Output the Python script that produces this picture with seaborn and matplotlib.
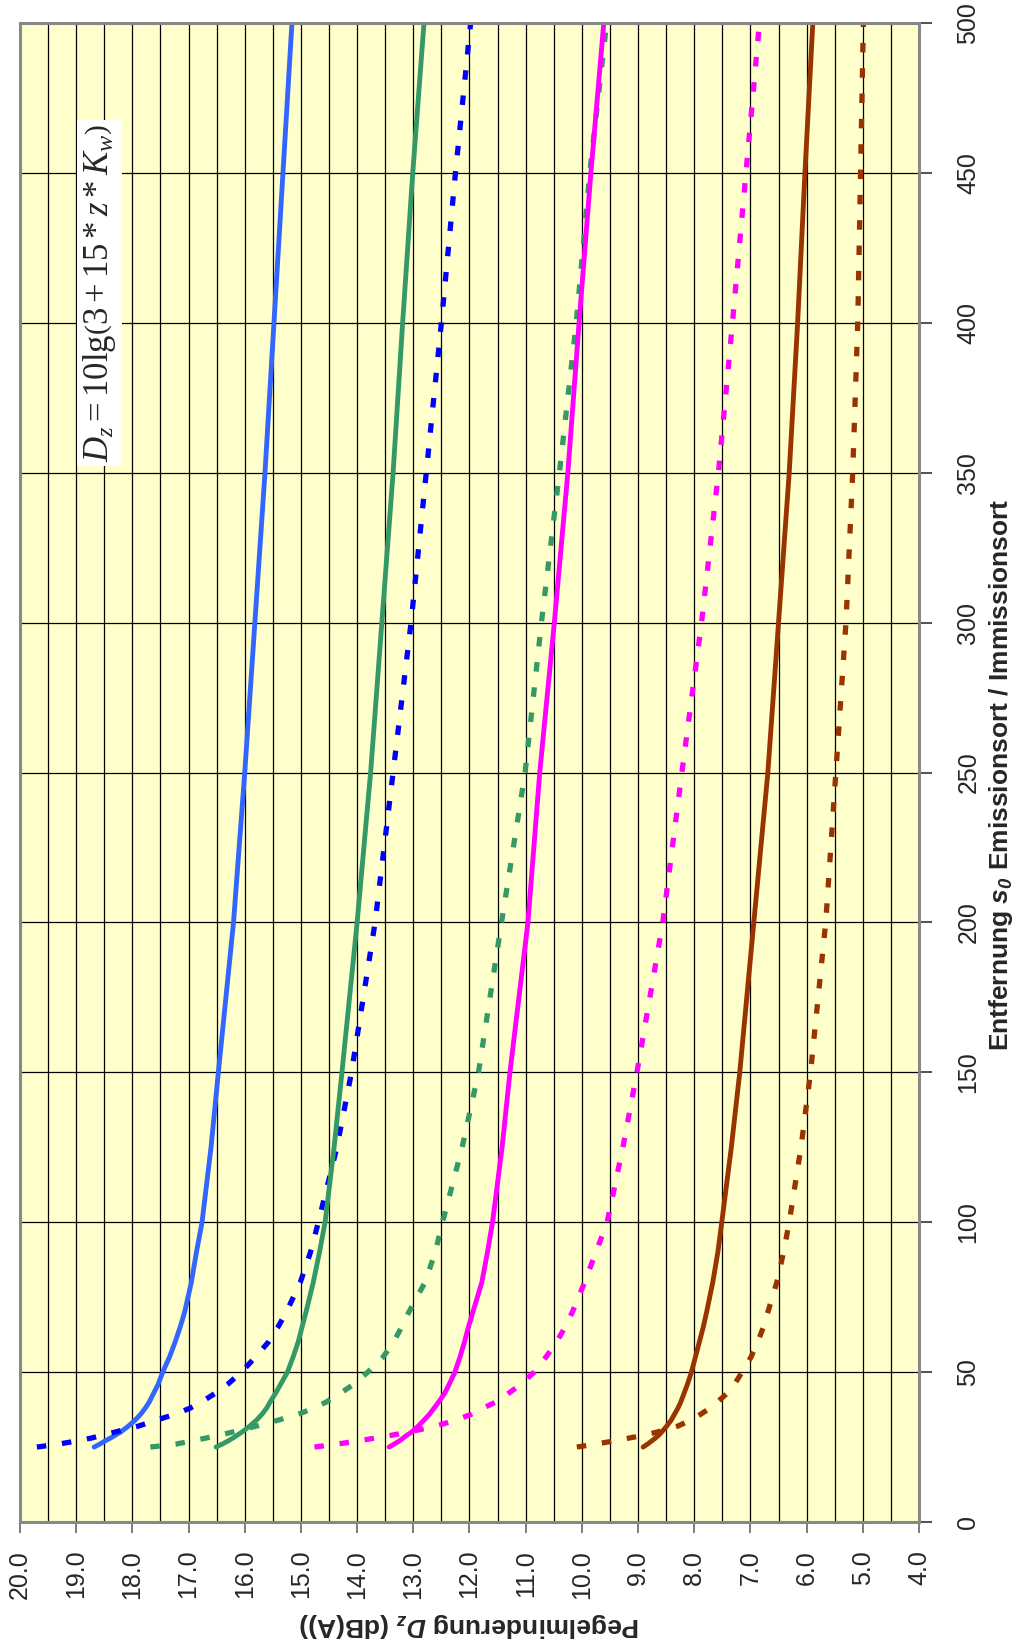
import matplotlib
matplotlib.use("Agg")
import matplotlib.pyplot as plt
import numpy as np
import seaborn as sns

# Entfernung s0 (m) - gemeinsame Stuetzstellen fuer alle Kurven
entfernung = [25, 26, 27, 28, 29, 30, 32, 34, 36, 38, 40, 43, 46, 50, 55, 60, 65, 70, 80, 90, 100,
              125, 150, 200, 250, 300, 350, 400, 450, 500]

# Pegelminderung Dz (dB(A)) je Kurve
d_hellblau = [18.68, 18.58, 18.49, 18.39, 18.30, 18.21, 18.07, 17.95, 17.85, 17.77, 17.70, 17.62,
              17.54, 17.46, 17.34, 17.24, 17.15, 17.07, 16.95, 16.86, 16.76,
              16.60, 16.47, 16.20, 16.00, 15.82, 15.64, 15.48, 15.32, 15.16]
d_blau_gestr = [19.70, 19.31, 19.00, 18.73, 18.52, 18.31, 17.89, 17.57, 17.23, 16.97, 16.77, 16.52,
                16.30, 16.06, 15.81, 15.58, 15.41, 15.26, 15.01, 14.83, 14.69,
                14.36, 14.10, 13.68, 13.36, 13.04, 12.77, 12.50, 12.25, 11.98]
d_gruen = [16.51, 16.40, 16.30, 16.21, 16.13, 16.05, 15.91, 15.79, 15.69, 15.61, 15.55, 15.45,
           15.36, 15.24, 15.14, 15.05, 14.98, 14.91, 14.78, 14.67, 14.57,
           14.41, 14.27, 14.00, 13.76, 13.56, 13.36, 13.19, 13.01, 12.81]
d_gruen_gestr = [17.68, 17.22, 16.95, 16.69, 16.44, 16.22, 15.79, 15.40, 15.04, 14.77, 14.55, 14.29,
                 14.06, 13.81, 13.54, 13.35, 13.21, 13.08, 12.79, 12.61, 12.48,
                 12.13, 11.84, 11.43, 11.01, 10.72, 10.40, 10.10, 9.86, 9.56]
d_magenta = [13.43, 13.34, 13.25, 13.18, 13.11, 13.03, 12.91, 12.81, 12.71, 12.63, 12.55, 12.44,
             12.36, 12.26, 12.17, 12.09, 12.02, 11.94, 11.78, 11.68, 11.59,
             11.42, 11.28, 10.96, 10.75, 10.49, 10.25, 10.05, 9.84, 9.61]
d_magenta_gestr = [14.76, 14.35, 14.00, 13.68, 13.37, 13.08, 12.60, 12.24, 11.96, 11.76, 11.53, 11.30,
                   11.08, 10.85, 10.64, 10.45, 10.30, 10.17, 9.95, 9.75, 9.55,
                   9.27, 9.02, 8.56, 8.22, 7.87, 7.57, 7.32, 7.08, 6.84]
d_braun = [8.91, 8.83, 8.76, 8.69, 8.63, 8.58, 8.49, 8.41, 8.35, 8.29, 8.24, 8.18,
           8.12, 8.05, 7.98, 7.91, 7.84, 7.78, 7.67, 7.58, 7.51,
           7.34, 7.19, 6.94, 6.69, 6.50, 6.31, 6.16, 6.03, 5.89]
d_braun_gestr = [10.09, 9.75, 9.44, 9.16, 8.88, 8.66, 8.29, 8.06, 7.88, 7.72, 7.59, 7.41,
                 7.28, 7.15, 6.99, 6.87, 6.77, 6.69, 6.53, 6.41, 6.31,
                 6.10, 5.93, 5.66, 5.48, 5.30, 5.18, 5.09, 5.04, 4.99]

d_ticks = np.arange(4, 20.01, 1.0)
s_ticks = np.arange(0, 501, 50)

sns.set_theme(style="white")
plt.rcParams['font.family'] = ['Liberation Sans', 'DejaVu Sans']
plt.rcParams['mathtext.fontset'] = 'custom'
plt.rcParams['mathtext.rm'] = 'Liberation Serif'
plt.rcParams['mathtext.it'] = 'Liberation Serif:italic'
plt.rcParams['mathtext.bf'] = 'Liberation Sans:italic:bold'

fig = plt.figure(figsize=(10.2, 16.43), dpi=100)
ax = fig.add_axes([20 / 1020, 1 - 1522 / 1643, 899 / 1020, 1499 / 1643])
ax.set_facecolor('#FFFFCC')

gestrichelt = (0, (1.8, 3.0))
kurven = [
    (d_hellblau, '#3366FF', '-'),
    (d_blau_gestr, '#0000FF', gestrichelt),
    (d_gruen, '#339966', '-'),
    (d_gruen_gestr, '#339966', gestrichelt),
    (d_magenta, '#FF00FF', '-'),
    (d_magenta_gestr, '#FF00FF', gestrichelt),
    (d_braun, '#993300', '-'),
    (d_braun_gestr, '#993300', gestrichelt),
]
for werte, farbe, stil in kurven:
    breite = 3.5 if stil == '-' else 3.8
    sns.lineplot(x=werte, y=entfernung, orient='y', sort=False, estimator=None,
                 color=farbe, linewidth=breite, linestyle=stil, ax=ax, legend=False)

ax.set_xlim(20, 4)
ax.set_ylim(0, 500)
ax.set_xticks(d_ticks)
ax.set_xticklabels([f'{v:.1f}' for v in d_ticks])
ax.set_xticks(np.arange(4, 20.01, 0.5), minor=True)
ax.yaxis.tick_right()
ax.set_yticks(s_ticks)
ax.set_yticklabels([str(v) for v in s_ticks])
ax.set_xlabel('')
ax.set_ylabel('')

ax.grid(which='both', axis='x', color='black', linewidth=0.9)
ax.grid(which='major', axis='y', color='black', linewidth=0.9)
ax.set_axisbelow(True)

ax.tick_params(axis='x', which='major', bottom=True, length=8, width=1.2, color='#666666',
               labelsize=18, labelrotation=90, pad=12)
ax.tick_params(axis='x', which='minor', length=0)
ax.tick_params(axis='y', which='major', right=True, left=False, length=9, width=1.2,
               color='#333333', labelsize=18, labelrotation=90, pad=18)
for lab in ax.get_yticklabels():
    lab.set_va('center')

for sp in ax.spines.values():
    sp.set_color('#888888')
    sp.set_linewidth(2.2)

ax.text(18.58, 410, r'$D_z = 10\mathrm{lg}\left(3+15*z*K_w\right)$', rotation=90,
        ha='center', va='center', fontsize=25,
        bbox=dict(facecolor='white', edgecolor='none', pad=3))

fig.text(470 / 1020, 1 - 1625 / 1643, r'Pegelminderung $\mathbf{D_z}$ (dB(A))', rotation=180,
         ha='center', va='center', fontsize=19, fontweight='bold')
fig.text(1001 / 1020, 1 - 775 / 1643, r'Entfernung $\mathbf{s_0}$ Emissionsort / Immissionsort',
         rotation=90, ha='center', va='center', fontsize=19, fontweight='bold')

fig.savefig('out.png', dpi=100)
